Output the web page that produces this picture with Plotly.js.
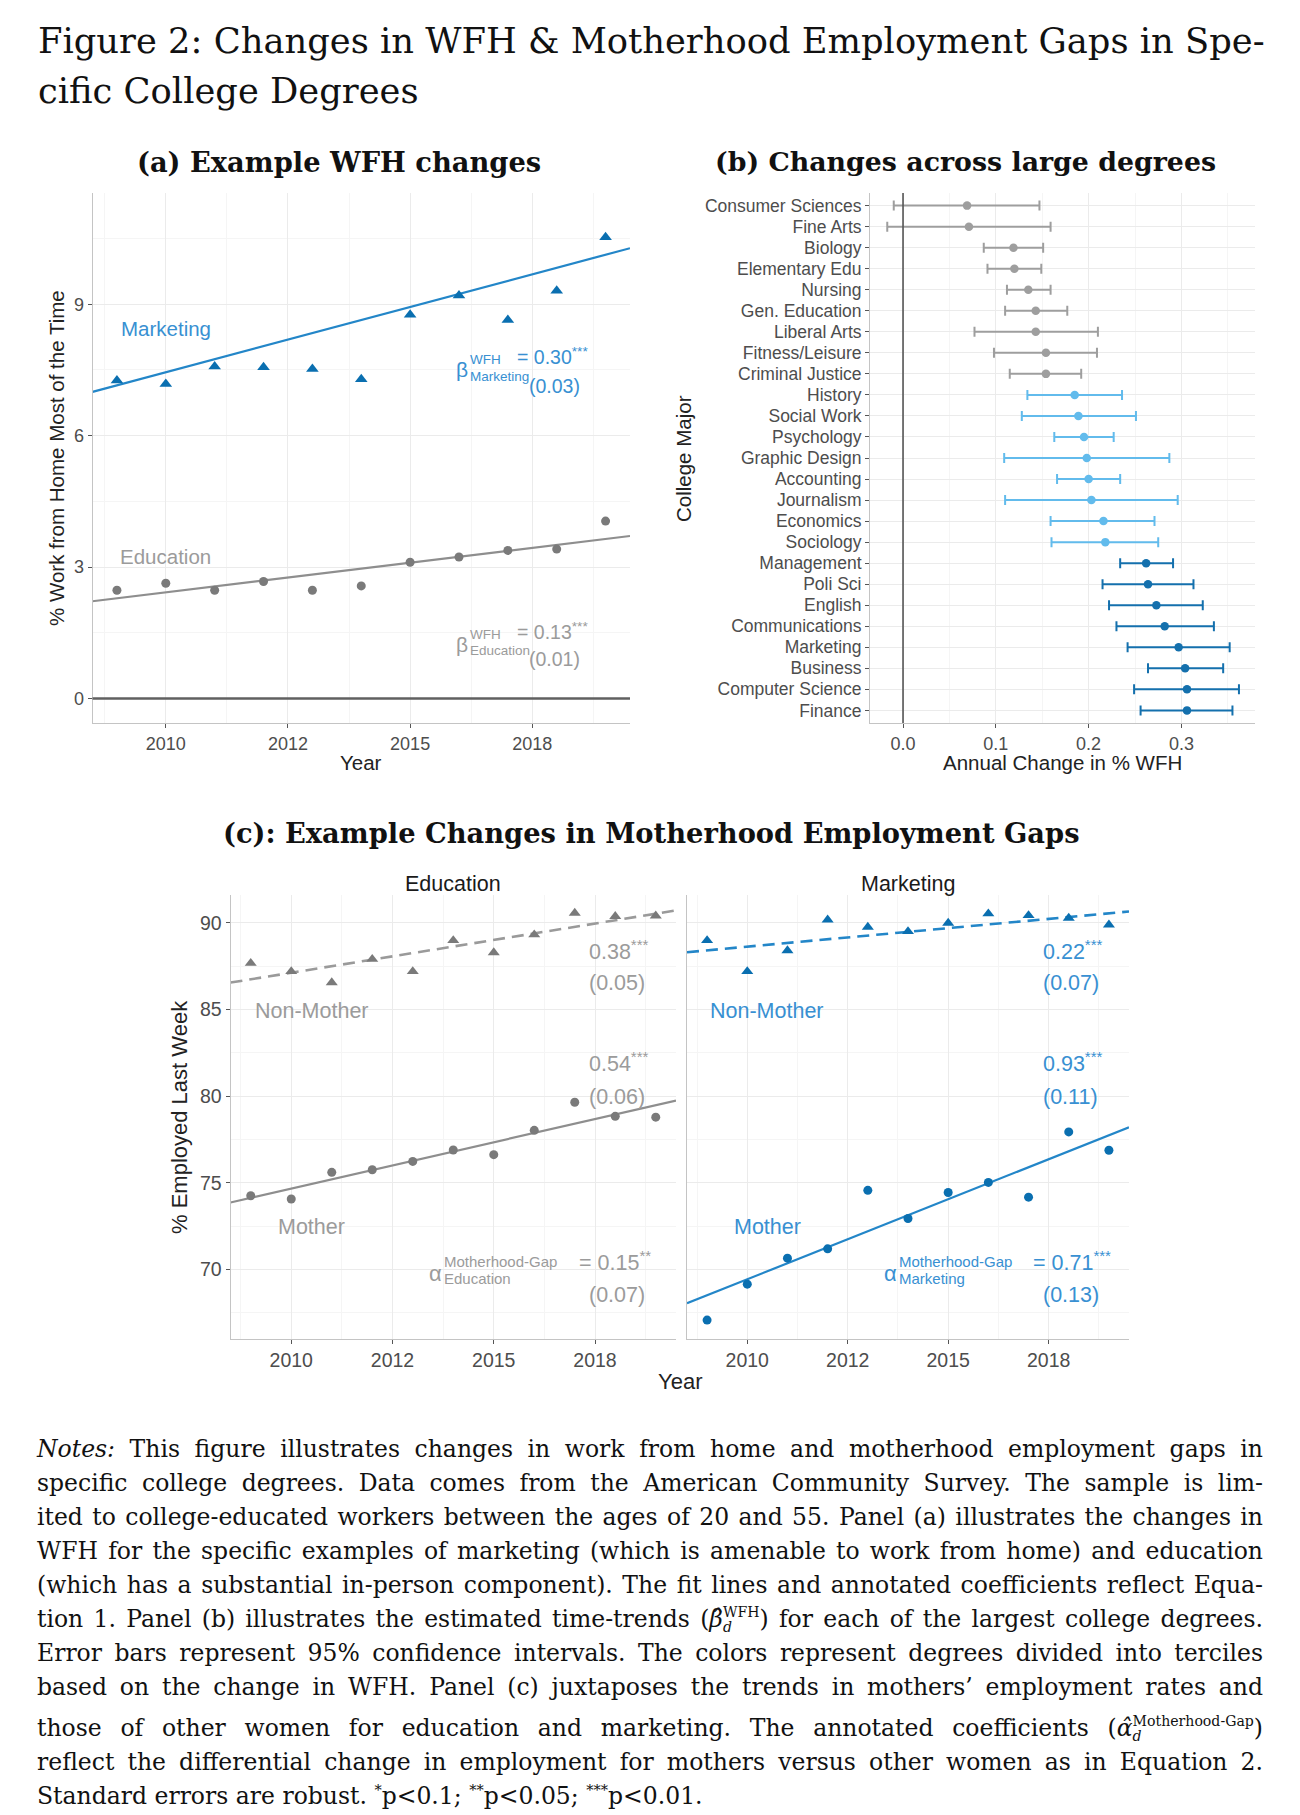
<!DOCTYPE html>
<html>
<head>
<meta charset="utf-8">
<script src="https://cdn.plot.ly/plotly-3.0.1.min.js"></script>
<style>
html,body{margin:0;padding:0;background:#fff;}
#wrap{position:relative;width:1300px;height:1815px;overflow:hidden;}
#chart{position:absolute;left:0;top:0;width:1300px;height:1815px;}
#notes{position:absolute;left:37px;top:1432px;width:1226px;font-family:'DejaVu Serif',serif;font-size:23.5px;color:#111;}
#notes .ln{height:34px;line-height:34px;text-align:justify;text-align-last:justify;white-space:normal;}
#notes .ln.last{text-align-last:left;}
#notes .ln.tall{margin-top:7px;}
#notes sup{font-size:0.62em;vertical-align:0.6em;line-height:0;}
#notes .st{display:inline-block;vertical-align:-0.35em;line-height:1.05;font-size:0.6em;text-align:left;}
#notes .st span{display:block;}
</style>
</head>
<body>
<div id="wrap">
<div id="chart"></div>
<div id="notes">
<div class="ln"><i>Notes:</i> This figure illustrates changes in work from home and motherhood employment gaps in</div>
<div class="ln">specific college degrees. Data comes from the American Community Survey. The sample is lim-</div>
<div class="ln">ited to college-educated workers between the ages of 20 and 55. Panel (a) illustrates the changes in</div>
<div class="ln">WFH for the specific examples of marketing (which is amenable to work from home) and education</div>
<div class="ln">(which has a substantial in-person component). The fit lines and annotated coefficients reflect Equa-</div>
<div class="ln">tion 1. Panel (b) illustrates the estimated time-trends (<i>β̂</i><span class="st"><span>WFH</span><span><i>d</i></span></span>) for each of the largest college degrees.</div>
<div class="ln">Error bars represent 95% confidence intervals. The colors represent degrees divided into terciles</div>
<div class="ln">based on the change in WFH. Panel (c) juxtaposes the trends in mothers’ employment rates and</div>
<div class="ln tall">those of other women for education and marketing. The annotated coefficients (<i>α̂</i><span class="st"><span>Motherhood-Gap</span><span><i>d</i></span></span>)</div>
<div class="ln">reflect the differential change in employment for mothers versus other women as in Equation 2.</div>
<div class="ln last">Standard errors are robust. <sup>*</sup>p&lt;0.1; <sup>**</sup>p&lt;0.05; <sup>***</sup>p&lt;0.01.</div>
</div>
</div>
<script>
// ---------- data: panel (a) ----------
const years = [2009, 2010, 2011, 2012, 2013, 2014, 2015, 2016, 2017, 2018, 2019];
const wfhMarketing = [7.26, 7.18, 7.58, 7.56, 7.52, 7.29, 8.76, 9.20, 8.64, 9.31, 10.53];
const wfhEducation = [2.47, 2.63, 2.47, 2.67, 2.47, 2.57, 3.11, 3.23, 3.38, 3.41, 4.05];
const fitYears = [2008.5, 2019.5];
const wfhMarketingFit = [7.00, 10.28];
const wfhEducationFit = [2.22, 3.71];
const yearTickVals = [2010, 2012.5, 2015, 2017.5];
const yearTickText = ['2010', '2012', '2015', '2018'];

// ---------- data: panel (b) ----------
const majors = ['Consumer Sciences', 'Fine Arts', 'Biology', 'Elementary Edu', 'Nursing',
  'Gen. Education', 'Liberal Arts', 'Fitness/Leisure', 'Criminal Justice', 'History',
  'Social Work', 'Psychology', 'Graphic Design', 'Accounting', 'Journalism', 'Economics',
  'Sociology', 'Management', 'Poli Sci', 'English', 'Communications', 'Marketing',
  'Business', 'Computer Science', 'Finance'];
const trendEst = [0.069, 0.071, 0.119, 0.120, 0.135, 0.143, 0.143, 0.154, 0.154, 0.185,
  0.189, 0.195, 0.198, 0.200, 0.203, 0.216, 0.218, 0.262, 0.264, 0.273, 0.282, 0.297,
  0.304, 0.306, 0.306];
const trendLo = [-0.010, -0.017, 0.087, 0.091, 0.112, 0.110, 0.077, 0.098, 0.115, 0.134,
  0.128, 0.163, 0.109, 0.166, 0.110, 0.159, 0.160, 0.234, 0.215, 0.222, 0.230, 0.242,
  0.264, 0.249, 0.256];
const trendHi = [0.147, 0.159, 0.151, 0.149, 0.159, 0.177, 0.210, 0.209, 0.192, 0.236,
  0.251, 0.227, 0.287, 0.234, 0.296, 0.271, 0.275, 0.291, 0.313, 0.323, 0.335, 0.352,
  0.345, 0.362, 0.355];
const tercile = [1, 1, 1, 1, 1, 1, 1, 1, 1, 2, 2, 2, 2, 2, 2, 2, 2, 3, 3, 3, 3, 3, 3, 3, 3];

// ---------- data: panel (c) ----------
const empEduNonMother = [87.67, 87.19, 86.55, 87.90, 87.19, 88.98, 88.28, 89.31, 90.56, 90.37, 90.40];
const empEduMother = [74.26, 74.07, 75.61, 75.76, 76.24, 76.90, 76.63, 78.03, 79.65, 78.84, 78.79];
const empMktNonMother = [88.98, 87.19, 88.40, 90.17, 89.75, 89.50, 89.98, 90.52, 90.42, 90.27, 89.88];
const empMktMother = [67.09, 69.16, 70.66, 71.20, 74.57, 72.95, 74.45, 75.03, 74.18, 77.94, 76.88];
const empEduNonMotherFit = [86.55, 90.71];
const empEduMotherFit = [73.87, 79.75];
const empMktNonMotherFit = [88.30, 90.65];
const empMktMotherFit = [68.06, 78.21];

// ---------- styles ----------
const SANS = 'Liberation Sans, Arial, Helvetica, sans-serif';
const SERIF = 'DejaVu Serif, serif';
const GRAY_PT = '#7a7a7a', GRAY_LN = '#8e8e8e', GRAY_TXT = '#9b9b9b';
const BLUE_PT = '#0a6fb0', BLUE_LN = '#2386c8', BLUE_TXT = '#3890d2';
const TERC_COL = {1: '#9e9e9e', 2: '#62bbec', 3: '#1470ad'};
const GRID = '#ebebeb', MINOR = '#f5f5f5', AXLINE = '#c4c4c4', TICKC = '#555555', TICKTXT = '#4d4d4d';

const traces = [];
// panel (a)
traces.push({x: fitYears, y: wfhMarketingFit, xaxis: 'x', yaxis: 'y', mode: 'lines',
  line: {color: BLUE_LN, width: 2.2}, hoverinfo: 'skip'});
traces.push({x: fitYears, y: wfhEducationFit, xaxis: 'x', yaxis: 'y', mode: 'lines',
  line: {color: GRAY_LN, width: 2.2}, hoverinfo: 'skip'});
traces.push({x: years, y: wfhMarketing, xaxis: 'x', yaxis: 'y', mode: 'markers',
  marker: {symbol: 'triangle-up', size: 11, color: BLUE_PT}});
traces.push({x: years, y: wfhEducation, xaxis: 'x', yaxis: 'y', mode: 'markers',
  marker: {symbol: 'circle', size: 9, color: GRAY_PT}});

// panel (b)
[1, 2, 3].forEach(t => {
  const idx = tercile.map((v, i) => v === t ? i : -1).filter(i => i >= 0);
  traces.push({
    x: idx.map(i => trendEst[i]), y: idx.map(i => majors[i]),
    xaxis: 'x2', yaxis: 'y2', mode: 'markers', type: 'scatter',
    marker: {size: 8.5, color: TERC_COL[t]},
    error_x: {type: 'data', symmetric: false,
      array: idx.map(i => trendHi[i] - trendEst[i]),
      arrayminus: idx.map(i => trendEst[i] - trendLo[i]),
      color: TERC_COL[t], thickness: 2, width: 5}
  });
});

// panel (c) - Education
traces.push({x: fitYears, y: empEduNonMotherFit, xaxis: 'x3', yaxis: 'y3', mode: 'lines',
  line: {color: '#9a9a9a', width: 2.6, dash: '12px,7px'}, hoverinfo: 'skip'});
traces.push({x: fitYears, y: empEduMotherFit, xaxis: 'x3', yaxis: 'y3', mode: 'lines',
  line: {color: GRAY_LN, width: 2.2}, hoverinfo: 'skip'});
traces.push({x: years, y: empEduNonMother, xaxis: 'x3', yaxis: 'y3', mode: 'markers',
  marker: {symbol: 'triangle-up', size: 10.5, color: GRAY_PT}});
traces.push({x: years, y: empEduMother, xaxis: 'x3', yaxis: 'y3', mode: 'markers',
  marker: {symbol: 'circle', size: 9, color: GRAY_PT}});
// panel (c) - Marketing
traces.push({x: fitYears, y: empMktNonMotherFit, xaxis: 'x4', yaxis: 'y4', mode: 'lines',
  line: {color: BLUE_LN, width: 2.6, dash: '12px,7px'}, hoverinfo: 'skip'});
traces.push({x: fitYears, y: empMktMotherFit, xaxis: 'x4', yaxis: 'y4', mode: 'lines',
  line: {color: BLUE_LN, width: 2.2}, hoverinfo: 'skip'});
traces.push({x: years, y: empMktNonMother, xaxis: 'x4', yaxis: 'y4', mode: 'markers',
  marker: {symbol: 'triangle-up', size: 10.5, color: BLUE_PT}});
traces.push({x: years, y: empMktMother, xaxis: 'x4', yaxis: 'y4', mode: 'markers',
  marker: {symbol: 'circle', size: 9, color: BLUE_PT}});

// ---------- axes ----------
const W = 1300, H = 1815;
const px = v => v / W;          // page x pixel -> paper
const py = v => 1 - v / H;      // page y pixel -> paper

function baseAxis(extra) {
  return Object.assign({
    showgrid: true, gridcolor: GRID, gridwidth: 1, zeroline: false,
    showline: true, linecolor: AXLINE, linewidth: 1,
    ticks: 'outside', ticklen: 4, tickwidth: 1, tickcolor: TICKC,
    tickfont: {family: SANS, size: 18, color: TICKTXT}, fixedrange: true
  }, extra);
}
const yearAxis = (dom, anchor, fs) => baseAxis({
  domain: dom, anchor: anchor, range: [2008.5, 2019.5],
  tickmode: 'array', tickvals: yearTickVals, ticktext: yearTickText,
  tickfont: {family: SANS, size: fs, color: TICKTXT},
  minor: {tickmode: 'linear', tick0: 2008.75, dtick: 2.5, showgrid: true, gridcolor: MINOR, ticks: ''}
});

const layout = {
  width: W, height: H, autosize: false,
  margin: {l: 0, r: 0, t: 0, b: 0},
  paper_bgcolor: '#ffffff', plot_bgcolor: '#ffffff',
  showlegend: false,
  xaxis: yearAxis([px(92.5), px(630)], 'y', 18),
  yaxis: baseAxis({domain: [py(723), py(193)], anchor: 'x', range: [-0.56, 11.54],
    tickmode: 'linear', tick0: 0, dtick: 3,
    minor: {tickmode: 'linear', tick0: 1.5, dtick: 3, showgrid: true, gridcolor: MINOR, ticks: ''}}),
  xaxis2: baseAxis({domain: [px(870), px(1255)], anchor: 'y2', range: [-0.0356, 0.3793],
    tickmode: 'linear', tick0: 0, dtick: 0.1, tickformat: '.1f',
    minor: {tickmode: 'linear', tick0: 0.05, dtick: 0.1, showgrid: true, gridcolor: MINOR, ticks: ''}}),
  yaxis2: baseAxis({domain: [py(723), py(193)], anchor: 'x2', type: 'category',
    categoryorder: 'array', categoryarray: majors, range: [24.6, -0.6],
    tickfont: {family: SANS, size: 17.5, color: TICKTXT}}),
  xaxis3: yearAxis([px(230.5), px(676)], 'y3', 19.5),
  yaxis3: baseAxis({domain: [py(1339), py(895)], anchor: 'x3', range: [66.0, 91.6],
    tickmode: 'linear', tick0: 70, dtick: 5,
    tickfont: {family: SANS, size: 19.5, color: TICKTXT},
    minor: {tickmode: 'linear', tick0: 67.5, dtick: 5, showgrid: true, gridcolor: MINOR, ticks: ''}}),
  xaxis4: yearAxis([px(687), px(1129)], 'y4', 19.5),
  yaxis4: baseAxis({domain: [py(1339), py(895)], anchor: 'x4', range: [66.0, 91.6],
    tickmode: 'linear', tick0: 70, dtick: 5, showticklabels: false, ticks: '',
    minor: {tickmode: 'linear', tick0: 67.5, dtick: 5, showgrid: true, gridcolor: MINOR, ticks: ''}}),
  shapes: [
    {type: 'line', xref: 'x domain', x0: 0, x1: 1, yref: 'y', y0: 0, y1: 0,
      line: {color: '#606060', width: 2.6}},
    {type: 'line', xref: 'x2', x0: 0, x1: 0, yref: 'y2 domain', y0: 0, y1: 1,
      line: {color: '#555555', width: 1.6}}
  ],
  annotations: []
};

function ann(text, x, y, xref, yref, size, color, o) {
  return Object.assign({text: text, x: x, y: y, xref: xref, yref: yref, showarrow: false,
    font: {family: SANS, size: size, color: color}, xanchor: 'center', yanchor: 'middle'}, o || {});
}
const A = layout.annotations;
// figure title (two typeset lines, as in the source)
const titleLines = ['Figure 2: Changes in WFH &amp; Motherhood Employment Gaps in Spe-', 'cific College Degrees'];
A.push(ann(titleLines[0], px(36), py(40.5), 'paper', 'paper', 35.3, '#111',
  {xanchor: 'left', font: {family: SERIF, size: 35.3, color: '#111'}}));
A.push(ann(titleLines[1], px(36), py(90), 'paper', 'paper', 35.3, '#111',
  {xanchor: 'left', font: {family: SERIF, size: 35.3, color: '#111'}}));
// panel titles
const PT = {family: SERIF, size: 27.3, color: '#111'};
A.push(ann('<b>(a) Example WFH changes</b>', px(339), py(162), 'paper', 'paper', 27.3, '#111', {font: PT}));
A.push(ann('<b>(b) Changes across large degrees</b>', px(965), py(162), 'paper', 'paper', 27.3, '#111',
  {font: {family: SERIF, size: 26.8, color: '#111'}}));
A.push(ann('<b>(c): Example Changes in Motherhood Employment Gaps</b>', px(651), py(833), 'paper', 'paper', 27.3, '#111', {font: PT}));
// axis titles
A.push(ann('Year', 0.5, py(762), 'x domain', 'paper', 20.5, '#222'));
A.push(ann('% Work from Home Most of the Time', px(56), 0.5, 'paper', 'y domain', 20.5, '#222', {textangle: -90}));
A.push(ann('Annual Change in % WFH', 0.5, py(763), 'x2 domain', 'paper', 20.5, '#222'));
A.push(ann('College Major', px(683), 0.5, 'paper', 'y2 domain', 20.5, '#222', {textangle: -90}));
A.push(ann('Year', px(679.5), py(1381), 'paper', 'paper', 22, '#222'));
A.push(ann('% Employed Last Week', px(179), 0.5, 'paper', 'y3 domain', 22, '#222', {textangle: -90}));
// facet strips
A.push(ann('Education', 0.5, py(884), 'x3 domain', 'paper', 21.5, '#1a1a1a'));
A.push(ann('Marketing', 0.5, py(884), 'x4 domain', 'paper', 21.5, '#1a1a1a'));

// panel (a) labels
A.push(ann('Marketing', 2010, 8.45, 'x', 'y', 20.5, BLUE_TXT));
A.push(ann('Education', 2010, 3.25, 'x', 'y', 20.5, GRAY_TXT));
function betaBlock(xr, yr, sym, sub, sup, val, se, yB, ySup, ySub, yVal, ySe, col, symSize, big) {
  A.push(ann(sym, 2016.07, yB, xr, yr, symSize, col));
  A.push(ann(sup, 2016.2, ySup, xr, yr, 13.5, col, {xanchor: 'left', borderpad: 0}));
  A.push(ann(sub, 2016.2, ySub, xr, yr, 13.5, col, {xanchor: 'left', borderpad: 0}));
  A.push(ann(val, 2017.15, yVal, xr, yr, big, col, {xanchor: 'left'}));
  A.push(ann(se, 2017.95, ySe, xr, yr, big, col));
}
betaBlock('x', 'y', 'β', 'Marketing', 'WFH', '= 0.30<sup>***</sup>', '(0.03)', 7.50, 7.73, 7.34, 7.81, 7.13, BLUE_TXT, 21, 19.5);
betaBlock('x', 'y', 'β', 'Education', 'WFH', '= 0.13<sup>***</sup>', '(0.01)', 1.23, 1.47, 1.10, 1.55, 0.89, GRAY_TXT, 21, 19.5);

// panel (c) labels
function panelC(xr, yr, col, nmVal, nmSe, mVal, mSe, sub, gapVal, gapSe) {
  A.push(ann('Non-Mother', 2010.5, 84.91, xr, yr, 21.5, col));
  A.push(ann('Mother', 2010.5, 72.47, xr, yr, 21.5, col));
  A.push(ann(nmVal, 2017.3, 88.45, xr, yr, 21.5, col, {xanchor: 'left'}));
  A.push(ann(nmSe, 2017.3, 86.55, xr, yr, 21.5, col, {xanchor: 'left'}));
  A.push(ann(mVal, 2017.3, 82.0, xr, yr, 21.5, col, {xanchor: 'left'}));
  A.push(ann(mSe, 2017.3, 79.98, xr, yr, 21.5, col, {xanchor: 'left'}));
  A.push(ann('α', 2013.56, 69.75, xr, yr, 22, col));
  A.push(ann('Motherhood-Gap', 2013.75, 70.46, xr, yr, 15, col, {xanchor: 'left', borderpad: 0}));
  A.push(ann(sub, 2013.75, 69.48, xr, yr, 15, col, {xanchor: 'left', borderpad: 0}));
  A.push(ann(gapVal, 2017.05, 70.5, xr, yr, 21.5, col, {xanchor: 'left'}));
  A.push(ann(gapSe, 2017.3, 68.55, xr, yr, 21.5, col, {xanchor: 'left'}));
}
panelC('x3', 'y3', GRAY_TXT, '0.38<sup>***</sup>', '(0.05)', '0.54<sup>***</sup>', '(0.06)', 'Education', '= 0.15<sup>**</sup>', '(0.07)');
panelC('x4', 'y4', BLUE_TXT, '0.22<sup>***</sup>', '(0.07)', '0.93<sup>***</sup>', '(0.11)', 'Marketing', '= 0.71<sup>***</sup>', '(0.13)');

Plotly.newPlot('chart', traces, layout, {displayModeBar: false, staticPlot: true});

// keep each note line on one row (justified like the source)
function fitNotes() {
  document.querySelectorAll('#notes .ln').forEach(el => {
    let ls = 0;
    el.style.height = 'auto';
    while (el.getBoundingClientRect().height > 40 && ls > -2.5) {
      ls -= 0.05;
      el.style.letterSpacing = ls + 'px';
    }
    el.style.height = '';
  });
}
if (document.fonts && document.fonts.ready) { document.fonts.ready.then(fitNotes); } else { fitNotes(); }
</script>
</body>
</html>
